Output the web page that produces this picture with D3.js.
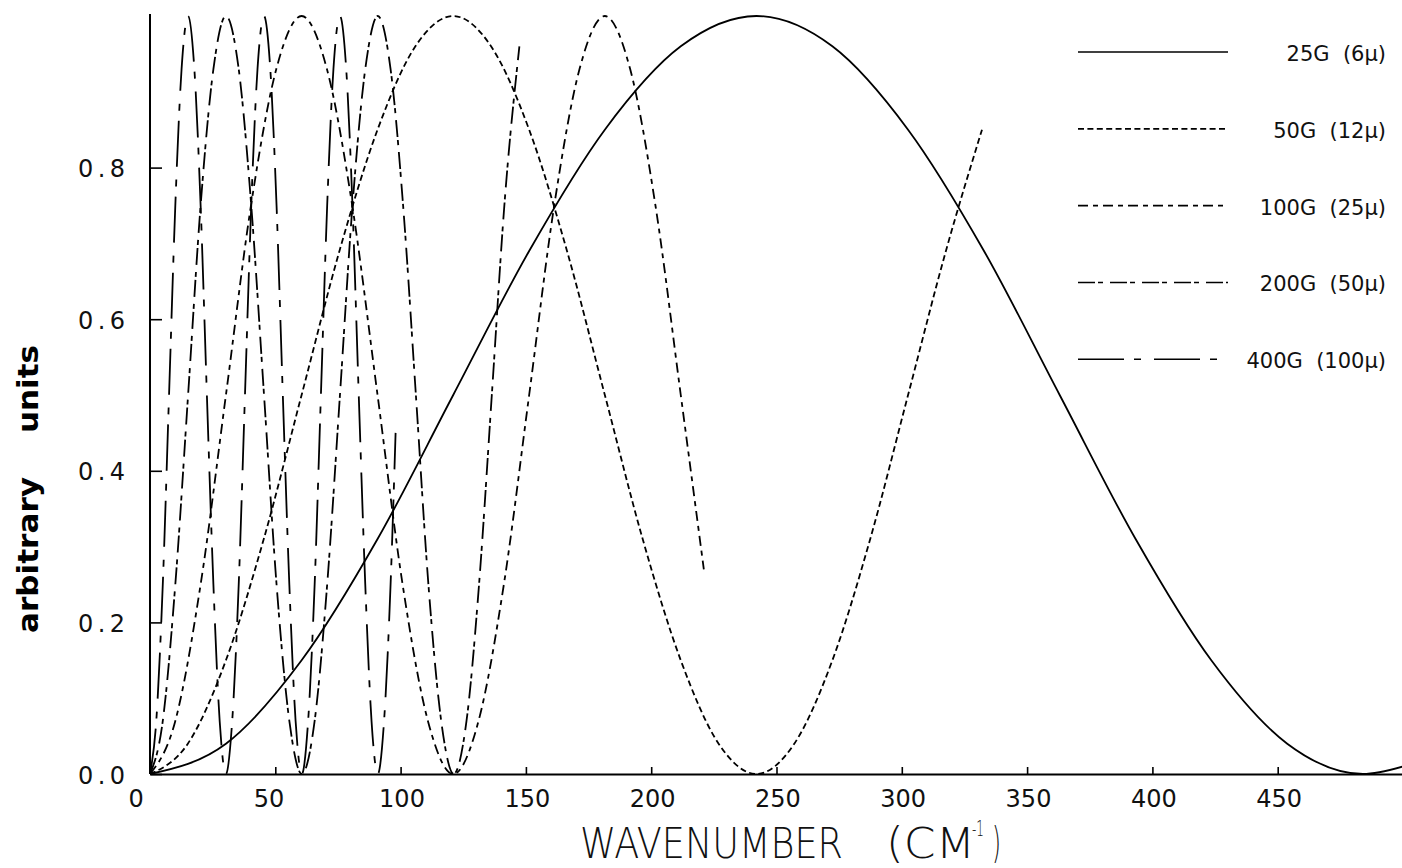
<!DOCTYPE html>
<html><head><meta charset="utf-8">
<script src="https://cdn.jsdelivr.net/npm/d3@7"></script>
<style>body{margin:0;background:#fff}svg{display:block}</style>
</head><body>
<svg id="c" width="1402" height="868"></svg>
<script>
// ---- data ----
const seriesNames = ["25G  (6\u03bc)", "50G  (12\u03bc)", "100G  (25\u03bc)", "200G  (50\u03bc)", "400G  (100\u03bc)"];

const x25 = [0,30.3,60.5,90.8,121,151.3,181.5,211.8,242,272.3,302.5,332.8,363,393.3,423.5,453.8,484,500];
const y25 = [0,0.04,0.15,0.31,0.5,0.69,0.85,0.96,1.0,0.96,0.85,0.69,0.5,0.31,0.15,0.04,0,0.01];

const x50 = [0,15.1,30.3,45.4,60.5,75.6,90.8,105.9,121,136.1,151.3,166.4,181.5,196.6,211.8,226.9,242,257.1,272.3,287.4,302.5,317.6,332];
const y50 = [0,0.04,0.15,0.31,0.5,0.69,0.85,0.96,1.0,0.96,0.85,0.69,0.5,0.31,0.15,0.04,0,0.04,0.15,0.31,0.5,0.69,0.85];

const x100 = [0,10.1,20.2,30.3,40.3,50.4,60.5,70.6,80.7,90.8,100.8,110.9,121,131.1,141.2,151.3,161.3,171.4,181.5,191.6,201.7,211.8,221];
const y100 = [0,0.07,0.25,0.5,0.75,0.93,1.0,0.93,0.75,0.5,0.25,0.07,0,0.07,0.25,0.5,0.75,0.93,1.0,0.93,0.75,0.5,0.27];

const x200 = [0,5.1,10.1,15.2,20.2,25.3,30.3,35.4,40.4,45.5,50.5,55.6,60.6,65.7,70.7,75.8,80.8,85.9,90.9,96,101,106.1,111.1,116.2,121.2,126.3,131.3,136.4,141.4,147.4];
const y200 = [0,0.07,0.25,0.5,0.75,0.93,1.0,0.93,0.75,0.5,0.25,0.07,0,0.07,0.25,0.5,0.75,0.93,1.0,0.93,0.75,0.5,0.25,0.07,0,0.07,0.25,0.5,0.75,0.96];

const x400 = [0,2.5,5.1,7.6,10.1,12.6,15.2,17.7,20.2,22.7,25.3,27.8,30.3,32.8,35.4,37.9,40.4,42.9,45.5,48,50.5,53,55.6,58.1,60.6,63.1,65.7,68.2,70.7,73.2,75.8,78.3,80.8,83.3,85.9,88.4,90.9,93.4,96,98];
const y400 = [0,0.07,0.25,0.5,0.75,0.93,1.0,0.93,0.75,0.5,0.25,0.07,0,0.07,0.25,0.5,0.75,0.93,1.0,0.93,0.75,0.5,0.25,0.07,0,0.07,0.25,0.5,0.75,0.93,1.0,0.93,0.75,0.5,0.25,0.07,0,0.07,0.25,0.45];

const xTicks = [0,50,100,150,200,250,300,350,400,450];
const yTicks = [0,0.2,0.4,0.6,0.8];

// ---- drawing ----
const svg = d3.select("#c");
const x = d3.scaleLinear([0,500],[150,1403]);
const y = d3.scaleLinear([0,1],[774,16]);

const dashes = [null, "6,3.4", "10,5,5,5", "17,3,5,7", "46,10,7,13"];
const series = [[x25,y25],[x50,y50],[x100,y100],[x200,y200],[x400,y400]];

const line = d3.line().x(d=>x(d[0])).y(d=>y(d[1])).curve(d3.curveMonotoneX);

const font = "'DejaVu Sans', sans-serif";

// axes
const gx = svg.append("g").attr("transform",`translate(0,${y(0)})`)
  .call(d3.axisBottom(x).tickValues(xTicks).tickFormat(d3.format("d")).tickSizeInner(-7).tickSizeOuter(0).tickPadding(15));
gx.select(".domain").attr("stroke-width",2);
gx.selectAll(".tick line").attr("stroke-width",1.6);
gx.selectAll(".tick text").attr("text-anchor","start").attr("x",-22).attr("y",33).attr("dy",null)
  .style("font-family",font).style("font-size","24px").attr("fill","#111");

const gy = svg.append("g").attr("transform",`translate(${x(0)},0)`)
  .call(d3.axisLeft(y).tickValues(yTicks).tickFormat(d3.format(".1f")).tickSizeInner(-12).tickSizeOuter(0).tickPadding(25));
gy.select(".domain").attr("stroke-width",2).attr("d",`M0,${y(0)}V14`);
gy.selectAll(".tick line").attr("stroke-width",1.6);
gy.selectAll(".tick text").attr("dy",null).attr("y",9)
  .attr("textLength",47).attr("lengthAdjust","spacing")
  .style("font-family",font).style("font-size","24px").attr("fill","#111");

// curves
series.forEach((s,i)=>{
  const pts = s[0].map((v,j)=>[v,s[1][j]]);
  svg.append("path").datum(pts).attr("d",line)
    .attr("fill","none").attr("stroke","#000").attr("stroke-width",1.8)
    .attr("stroke-dasharray",dashes[i]);
});

// legend
const ly = d3.scaleLinear([0,4],[52,359.3]);
seriesNames.forEach((n,i)=>{
  svg.append("line").attr("x1",1078).attr("x2",1228).attr("y1",ly(i)).attr("y2",ly(i))
    .attr("stroke","#000").attr("stroke-width",1.6).attr("stroke-dasharray",dashes[i]);
  svg.append("text").attr("x",1386).attr("y",ly(i)+9).attr("text-anchor","end")
    .style("white-space","pre").style("font-family",font).style("font-size","21px").attr("fill","#111")
    .text(n);
});

// x axis title: one text element with positioned parts
const title = svg.append("text").attr("y",858)
  .style("font-family",font).style("font-weight","200").style("font-size","43px").attr("fill","#111");
title.append("tspan").attr("x",580).attr("textLength",263).attr("lengthAdjust","spacingAndGlyphs").text("WAVENUMBER");
title.append("tspan").attr("x",886).attr("textLength",89).attr("lengthAdjust","spacingAndGlyphs").text("(CM");
title.append("tspan").attr("x",972).attr("dy",-22).style("font-size","22px").attr("textLength",12).attr("lengthAdjust","spacingAndGlyphs").text("-1");
title.append("tspan").attr("x",992).attr("dy",22).attr("textLength",9).attr("lengthAdjust","spacingAndGlyphs").text(")");

// y axis title (rotated)
[["arbitrary",633,156],["units",433,88]].forEach(([t,y0,len])=>{
  svg.append("text").attr("transform",`translate(38,${y0}) rotate(-90)`)
    .attr("textLength",len).attr("lengthAdjust","spacingAndGlyphs")
    .style("font-family",font).style("font-size","29px").style("font-weight","bold").attr("fill","#000").text(t);
});
</script>
</body></html>
